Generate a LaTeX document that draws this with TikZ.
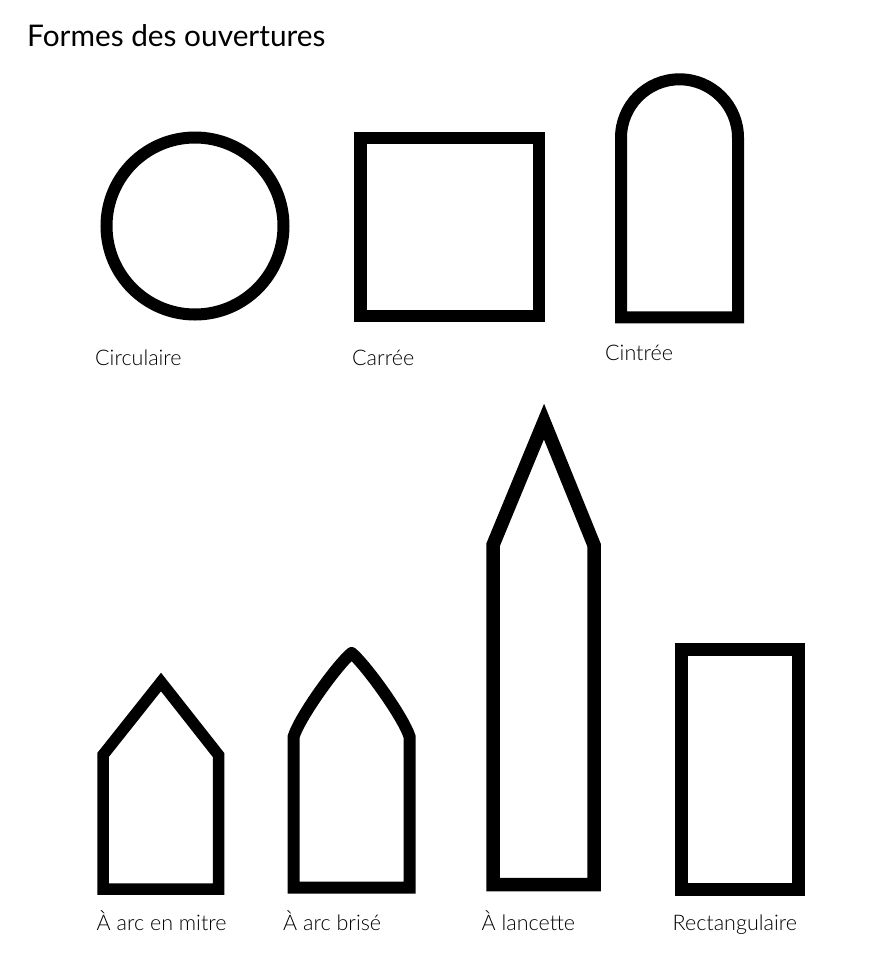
\documentclass[tikz,border=0pt]{standalone}
\usepackage{fontspec}
\setmainfont{Lato}
\newfontfamily\lightfont{Lato Light}
\begin{document}
\begin{tikzpicture}[x=1pt,y=-1pt,
  outl/.style={draw=black,line width=12.5pt,line join=miter,miter limit=10},
  lbl/.style={anchor=base west,inner sep=0pt,font=\lightfont\fontsize{21.5}{24}\selectfont},
  ttl/.style={anchor=base west,inner sep=0pt,font=\fontsize{29.8}{34}\selectfont}]
\useasboundingbox[fill=white] (0,0) rectangle (876,964);
\node[ttl] (title) at (27,46.7) {Formes des ouvertures};
% Circulaire
\coordinate (cc) at (195,226);
\draw[outl,line width=12pt] (cc) circle[radius=88.5];
\node[lbl] (lcirc) at (95,365.7) {Circulaire};
% Carrée
\draw[outl,line width=12.3pt] (360.5,138) rectangle (539,316);
\node[lbl] (lcarr) at (352,365.7) {Carrée};
% Cintrée
\draw[outl,line width=12pt] (621,317.3) -- (621,137.8) arc[start angle=180,end angle=360,radius=58.5] -- (738,317.3) -- cycle;
\node[lbl] (lcint) at (605,360) {Cintrée};
% A arc en mitre
\draw[outl,line width=11.5pt] (103,889) -- (103,755) -- (161,682) -- (218.5,755) -- (218.5,889) -- cycle;
\node[lbl] (lmitre) at (96.5,930.5) {À arc en mitre};
% A arc brise
\draw[outl,line width=12pt,line cap=round] (351.6,653) .. controls (365,664) and (403,716) .. (409.7,737) -- (409.7,887.5) -- (293.5,887.5) -- (293.5,737) .. controls (300,716) and (338,664) .. (351.6,653);
\node[lbl] (lbrise) at (283,930.5) {À arc brisé};
% A lancette
\draw[outl,line width=13.5pt] (493,884.5) -- (493,545) -- (544,421.6) -- (594,545) -- (594,884.5) -- cycle;
\node[lbl] (llanc) at (481.5,930.5) {À lancette};
% Rectangulaire
\draw[outl,line width=13pt] (681.5,649.3) rectangle (798.5,889);
\node[lbl] (lrect) at (672.5,930.5) {Rectangulaire};
\end{tikzpicture}
\end{document}
